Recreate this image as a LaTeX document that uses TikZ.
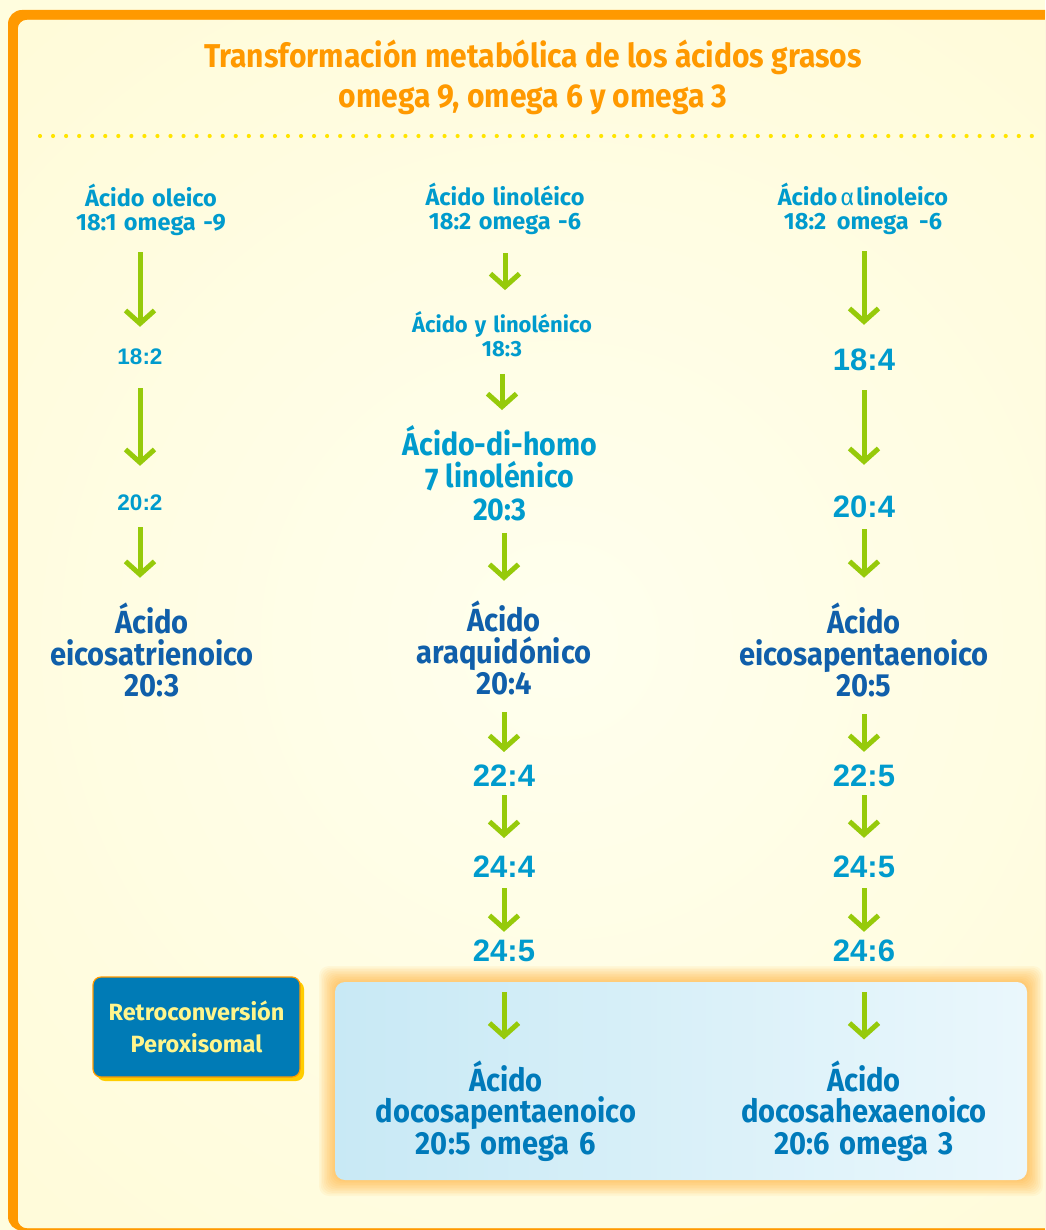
\documentclass[tikz,border=0pt]{standalone}
\usepackage{fontspec}
\setmainfont{Fira Sans}
\newfontfamily\fira[FakeStretch=0.91]{Fira Sans}
\newfontfamily\firas[WordSpace=1.35]{Fira Sans}
\newfontfamily\ari{Liberation Sans}
\usetikzlibrary{arrows.meta,shadows}
\definecolor{bgy}{RGB}{255,253,222}
\definecolor{innerc}{RGB}{255,250,212}
\definecolor{lightc}{RGB}{255,255,238}
\definecolor{org}{RGB}{255,153,0}
\definecolor{cyanl}{RGB}{0,155,205}
\definecolor{dblue}{RGB}{16,95,170}
\definecolor{mblue}{RGB}{0,122,186}
\definecolor{grn}{RGB}{150,202,10}
\definecolor{dotc}{RGB}{255,228,0}
\definecolor{retroc}{RGB}{0,123,182}
\definecolor{retrotxt}{RGB}{255,245,140}
\definecolor{shadc}{RGB}{255,205,0}
\definecolor{boxl}{RGB}{200,233,245}
\definecolor{boxr}{RGB}{234,247,252}
\begin{document}
\begin{tikzpicture}[x=1pt,y=-1pt,
  every node/.style={inner sep=0pt, align=center},
  ttl/.style={font=\fira\bfseries\fontsize{33}{40}\selectfont, text=org},
  small/.style={font=\firas\bfseries\fontsize{23.5}{24}\selectfont, text=cyanl},
  smaller/.style={font=\firas\bfseries\fontsize{22}{24}\selectfont, text=cyanl},
  numsm/.style={font=\ari\bfseries\fontsize{22.5}{26}\selectfont, text=cyanl},
  numbig/.style={font=\ari\bfseries\fontsize{31}{32}\selectfont, text=cyanl},
  midl/.style={font=\fira\bfseries\fontsize{31.4}{32.5}\selectfont, text=cyanl},
  big/.style={font=\fira\bfseries\fontsize{32}{31.5}\selectfont, text=dblue},
  final/.style={font=\fira\bfseries\fontsize{32}{31.5}\selectfont, text=mblue},
  retrobox/.style={draw=org, line width=1.2pt, fill=retroc, rounded corners=8pt,
    minimum width=207pt, minimum height=100pt, text=retrotxt,
    font=\firas\bfseries\fontsize{23.5}{32}\selectfont,
    drop shadow={shadow xshift=4pt, shadow yshift=-4pt, fill=shadc, opacity=1}},
  arr/.style={draw=grn, line width=5pt, -{Straight Barb[length=13pt,width=29pt]}},
]
\useasboundingbox (0,0) rectangle (1045,1230);
% frame and background
\begin{scope}
  \clip (0,0) rectangle (1045,1230);
  \fill[bgy] (0,0) rectangle (1045,1230);
  \fill[org, rounded corners=14pt] (8,10) rectangle (1100,1230.5);
  \fill[innerc, rounded corners=9pt] (18,20) rectangle (1100,1228);
  \clip[rounded corners=9pt] (18,20) rectangle (1100,1228);
  \shade[inner color=lightc, outer color=innerc] (560,640) circle (1000);
\end{scope}
\draw[dotc, line width=4.2pt, line cap=round, dash pattern=on 0pt off 13.05pt] (40,136) -- (1035,136);

% bottom box with glow
\foreach \i in {1,...,10}
  \fill[org, opacity=0.06, rounded corners=10pt] (335-\i*1.6,982-\i*1.6) rectangle (1027+\i*1.6,1180+\i*1.6);
\shade[left color=boxl, right color=boxr, rounded corners=10pt] (335,982) rectangle (1027,1180);

% title
\node[ttl] (title) at (533,77) {Transformación metabólica de los ácidos grasos\\omega 9, omega 6 y omega 3};

% column 1
\node[small] (ole) at (151,210) {Ácido oleico\\18:1 omega -9};
\node[numsm] (c1a) at (140,357) {18:2};
\node[numsm] (c1b) at (140,503) {20:2};
\node[big] (eico) at (152,650) {Ácido\\eicosatrienoico\\20:3};

% column 2
\node[small] (lin) at (505,209) {Ácido linoléico\\18:2 omega -6};
\node[smaller] (gam) at (502,334) {Ácido y linolénico\\18:3};
\node[midl] (dgla) at (500,473) {Ácido-di-homo\\\raisebox{-3pt}{7} linolénico\\20:3};
\node[big] (ara) at (504,648) {Ácido\\araquidónico\\20:4};
\node[numbig] (c2a) at (504,776) {22:4};
\node[numbig] (c2b) at (504,867) {24:4};
\node[numbig] (c2c) at (504,951) {24:5};
\node[final] (dpa) at (506,1111) {Ácido\\docosapentaenoico\\20:5\hspace{3pt} omega\hspace{3pt} 6};

% column 3
\node[small] (ala) at (863,209) {Ácido\hspace{3pt}{\mdseries α}\hspace{2pt}linoleico\\18:2\hspace{3pt} omega\hspace{3pt} -6};
\node[numbig] (c3a) at (864,360) {18:4};
\node[numbig] (c3b) at (864,507) {20:4};
\node[big] (epa) at (864,650) {Ácido\\eicosapentaenoico\\20:5};
\node[numbig] (c3c) at (864,776) {22:5};
\node[numbig] (c3d) at (864,867) {24:5};
\node[numbig] (c3e) at (864,951) {24:6};
\node[final] (dha) at (864,1111) {Ácido\\docosahexaenoico\\20:6\hspace{3pt} omega\hspace{3pt} 3};

% retroconversion box
\node[retrobox] (retro) at (196.5,1027) {Retroconversión\\Peroxisomal};

% arrows column 1
\draw[arr, shorten <=16pt, shorten >=22pt] (ole.south -| c1a.north) -- (c1a.north);
\draw[arr, shorten <=23pt, shorten >=29pt] (c1a.south) -- (c1b.north);
\draw[arr, shorten <=16pt, shorten >=25pt] (c1b.south) -- (c1b.south |- eico.north);
% arrows column 2
\draw[arr, shorten <=18pt, shorten >=21pt] (lin.south) -- (lin.south |- gam.north);
\draw[arr, shorten <=17pt, shorten >=15pt] (gam.south) -- (gam.south |- dgla.north);
\draw[arr, shorten <=12pt, shorten >=20pt] (ara.north |- dgla.south) -- (ara.north);
\draw[arr, shorten <=17pt, shorten >=13pt] (ara.south) -- (c2a.north);
\draw[arr, shorten <=8pt, shorten >=18pt] (c2a.south) -- (c2b.north);
\draw[arr, shorten <=10pt, shorten >=8pt] (c2b.south) -- (c2c.north);
\draw[arr, shorten <=30pt, shorten >=21pt] (c2c.south) -- (c2c.south |- dpa.north);
% arrows column 3
\draw[arr, shorten <=16pt, shorten >=24pt] (ala.south -| c3a.north) -- (c3a.north);
\draw[arr, shorten <=19pt, shorten >=31pt] (c3a.south) -- (c3b.north);
\draw[arr, shorten <=11pt, shorten >=25pt] (c3b.south) -- (c3b.south |- epa.north);
\draw[arr, shorten <=17pt, shorten >=13pt] (epa.south) -- (c3c.north);
\draw[arr, shorten <=8pt, shorten >=18pt] (c3c.south) -- (c3d.north);
\draw[arr, shorten <=10pt, shorten >=8pt] (c3d.south) -- (c3e.north);
\draw[arr, shorten <=30pt, shorten >=21pt] (c3e.south) -- (c3e.south |- dha.north);
\end{tikzpicture}
\end{document}
